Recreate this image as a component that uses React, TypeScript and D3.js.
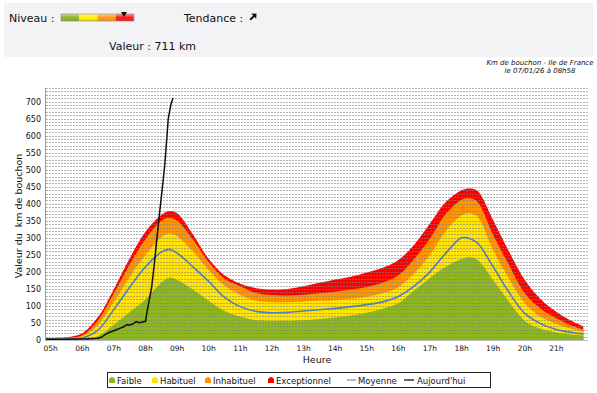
import React from 'react'
import * as d3 from 'd3'

// heures (décimales) des profils de référence
const hours = [4.82, 5, 5.5, 6, 6.5, 7, 7.5, 8, 8.5, 8.75, 9, 9.5, 10, 10.5, 11, 11.5, 12, 12.5, 13, 13.5, 14, 14.5, 15, 15.5, 16, 16.5, 17, 17.5, 18, 18.25, 18.5, 19, 19.5, 20, 20.5, 21, 21.5, 21.85]
const faible = [1, 1, 1, 2, 12, 45, 82, 120, 168, 183, 176, 148, 115, 85, 68, 58, 56, 56, 58, 62, 66, 72, 80, 92, 108, 145, 182, 215, 238, 243, 236, 176, 112, 56, 33, 22, 16, 13]
const habituel = [4, 4, 5, 10, 44, 112, 185, 250, 302, 313, 305, 260, 205, 160, 132, 115, 111, 111, 113, 115, 117, 121, 127, 137, 155, 195, 250, 320, 366, 372, 363, 264, 180, 108, 68, 47, 32, 24]
const inhabituel = [5, 5, 6, 14, 58, 137, 222, 296, 350, 359, 350, 295, 228, 180, 158, 138, 132, 131, 133, 137, 142, 148, 156, 168, 190, 238, 298, 370, 412, 416, 406, 308, 220, 137, 92, 64, 42, 31]
const exceptionnel = [6, 6, 8, 20, 68, 150, 240, 318, 367, 379, 372, 310, 238, 190, 165, 152, 148, 150, 158, 168, 178, 186, 198, 212, 235, 280, 342, 405, 440, 445, 438, 352, 260, 176, 120, 83, 55, 40]
const moyenne = [3, 3, 3, 6, 29, 90, 155, 215, 258, 266, 255, 215, 172, 125, 98, 84, 80, 81, 85, 89, 93, 98, 104, 112, 128, 158, 200, 255, 300, 298, 285, 215, 140, 78, 48, 31, 22, 18]

// aujourd'hui
const todayHours = [4.82, 5.5, 6, 6.25, 6.5, 6.6, 6.7, 6.8, 6.9, 7, 7.1, 7.2, 7.3, 7.4, 7.5, 7.6, 7.7, 7.8, 7.9, 8, 8.03, 8.09, 8.19, 8.27, 8.35, 8.45, 8.53, 8.61, 8.72, 8.8, 8.87]
const todayValues = [2, 2, 3, 4, 5, 8, 14, 20, 24, 27, 31, 35, 38, 45, 44, 47, 54, 51, 53, 55, 73, 103, 152, 215, 289, 377, 445, 514, 650, 690, 711]

const xTicks = d3.range(5, 22)
const yTicks = d3.range(0, 701, 50)
const gridTicks = d3.range(10, 741, 10)

const layers = [
  { name: 'Exceptionnel', values: exceptionnel, color: '#ff0000' },
  { name: 'Inhabituel', values: inhabituel, color: '#ff9400' },
  { name: 'Habituel', values: habituel, color: '#ffe400' },
  { name: 'Faible', values: faible, color: '#8db71e' },
]

const legendItems = [
  { label: 'Faible', color: '#8db71e', x: 112 },
  { label: 'Habituel', color: '#ffe400', x: 155 },
  { label: 'Inhabituel', color: '#ff9400', x: 208 },
  { label: 'Exceptionnel', color: '#ff0000', x: 271 },
]

const font = 'DejaVu Sans, Verdana, sans-serif'

const App = () => {
  const x = d3.scaleLinear().domain([4.82, 22]).range([45, 588])
  const y = d3.scaleLinear().domain([0, 740]).range([340, 88])

  const area = (vals) =>
    d3
      .area()
      .x((d, i) => x(hours[i]))
      .y0(y(0))
      .y1((d) => y(d))
      .curve(d3.curveCatmullRom.alpha(0.5))(vals)

  const avgLine = d3
    .line()
    .x((d, i) => x(hours[i]))
    .y((d) => y(d))
    .curve(d3.curveCatmullRom.alpha(0.5))(moyenne)

  const todayLine = d3
    .line()
    .x((d, i) => x(todayHours[i]))
    .y((d) => y(d))(todayValues)

  return (
    <svg
      width={597}
      height={393}
      style={{ position: 'absolute', left: 0, top: 0, fontFamily: font }}
    >
      <defs>
        <linearGradient id="shine" x1="0" y1="0" x2="0" y2="1">
          <stop offset="0" stopColor="#fff" stopOpacity="0.55" />
          <stop offset="0.5" stopColor="#fff" stopOpacity="0" />
          <stop offset="1" stopColor="#000" stopOpacity="0.12" />
        </linearGradient>
      </defs>
      <rect width={597} height={393} fill="#fff" />

      {/* bandeau */}
      <rect x={4} y={3} width={589} height={54} fill="#f3f3f6" />
      <text x={9} y={22} fontSize={11} fill="#111">Niveau :</text>
      {['#8db71e', '#ffee00', '#ff9a1a', '#ff1a1a'].map((c, i) => (
        <rect key={c} x={61 + i * 18.2} y={14} width={18.2} height={7} fill={c} />
      ))}
      <rect x={61} y={14} width={73} height={7} fill="url(#shine)" stroke="#888" strokeWidth={0.6} />
      <path d="M121,12 L127,12 L124,17 Z" fill="#111" />
      <text x={184} y={22} fontSize={11} fill="#111">Tendance :</text>
      <g transform="translate(253,17) rotate(-45)">
        <path d="M-4,0 L2,0" stroke="#111" strokeWidth={2} />
        <path d="M1,-3.5 L5,0 L1,3.5 Z" fill="#111" />
      </g>
      <text x={109} y={50} fontSize={11} fill="#111">Valeur : 711 km</text>

      <text x={540} y={65} fontSize={7} fontStyle="italic" textAnchor="middle" fill="#111">
        Km de bouchon - Ile de France
      </text>
      <text x={540} y={73} fontSize={7} fontStyle="italic" textAnchor="middle" fill="#111">
        le 07/01/26 à 08h58
      </text>

      {/* zones */}
      {layers.map((l) => (
        <path key={l.name} d={area(l.values)} fill={l.color} />
      ))}

      {/* grille */}
      {gridTicks.map((t) => (
        <line
          key={t}
          x1={46}
          x2={588}
          y1={Math.round(y(t)) + 0.5}
          y2={Math.round(y(t)) + 0.5}
          stroke="#808080"
          strokeOpacity={0.6}
          strokeWidth={1}
          strokeDasharray="2,1"
        />
      ))}

      <path d={avgLine} fill="none" stroke="#4f7fbf" strokeWidth={1.6} />
      <path d={todayLine} fill="none" stroke="#111" strokeWidth={1.5} />

      {/* axes */}
      <line x1={45.5} x2={45.5} y1={88} y2={340} stroke="#999" />
      <line x1={45} x2={588} y1={340.5} y2={340.5} stroke="#bbb" />
      {yTicks.map((t) => (
        <text key={t} x={41} y={y(t) + 3} fontSize={8} textAnchor="end" fill="#111">
          {t}
        </text>
      ))}
      {xTicks.map((t) => (
        <text key={t} x={x(t)} y={351} fontSize={7.5} textAnchor="middle" fill="#111">
          {String(t).padStart(2, '0')}h
        </text>
      ))}
      <text x={317} y={363} fontSize={9.5} textAnchor="middle" fill="#111">Heure</text>
      <text
        transform="translate(22,216) rotate(-90)"
        fontSize={9.5}
        textAnchor="middle"
        fill="#111"
        style={{ whiteSpace: 'pre' }}
      >
        Valeur du  km de bouchon
      </text>

      {/* légende */}
      <rect x={107.5} y={372.5} width={383} height={15} fill="#fff" stroke="#222" />
      {legendItems.map((it) => (
        <g key={it.label}>
          <path
            d={`M${it.x - 3},${383} L${it.x - 3},${379} Q${it.x},${375} ${it.x + 3},${379} L${it.x + 3},${383} Z`}
            fill={it.color}
          />
          <text x={it.x + 5} y={383.5} fontSize={8.5} fill="#111">{it.label}</text>
        </g>
      ))}
      <line x1={347} x2={356} y1={380} y2={380} stroke="#7ea6d9" strokeWidth={1.5} />
      <text x={358} y={383.5} fontSize={8.5} fill="#111">Moyenne</text>
      <line x1={404} x2={414} y1={380} y2={380} stroke="#333" strokeWidth={1.5} />
      <text x={417} y={383.5} fontSize={8.5} fill="#111">Aujourd'hui</text>
    </svg>
  )
}

export default App
